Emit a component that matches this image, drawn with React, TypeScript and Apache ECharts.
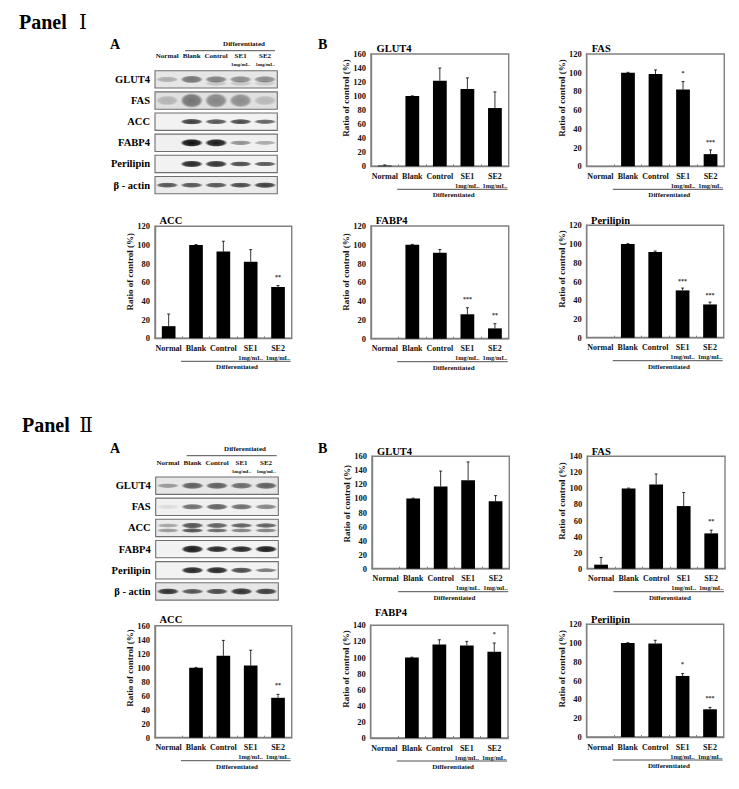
import React, { useEffect, useRef } from "react";
import * as echarts from "echarts";

const SERIF = '"Liberation Serif", "Times New Roman", serif';
const laneLabels = ["Normal", "Blank", "Control", "SE1", "SE2"];
const proteins = ["GLUT4", "FAS", "ACC", "FABP4", "Perilipin", "β - actin"];

// Panel I bar values, upper error limits, significance marks
const glut4I = [1, 100, 122, 110, 83];
const glut4ITop = [2, 100.4, 140, 126, 106];
const fasI = [0, 100, 98.5, 82, 13];
const fasITop = [0, 100.4, 103, 90.5, 17.5];
const accI = [13, 100, 93, 82, 55];
const accITop = [26, 100.4, 104, 95, 56.5];
const fabp4I = [0, 100, 91.5, 26, 11];
const fabp4ITop = [0, 100.4, 95, 33, 16];
const perilipinI = [0, 100, 91.5, 50.5, 35.5];
const perilipinITop = [0, 100.4, 92.5, 53, 38];

// Panel II
const glut4II = [0, 100, 117, 126, 96];
const glut4IITop = [0, 100.4, 139, 152, 104];
const fasII = [5, 100, 105, 78, 44];
const fasIITop = [14, 100.4, 118, 95, 48];
const accII = [0, 100, 117, 103, 57];
const accIITop = [0, 100.4, 139, 125, 62];
const fabp4II = [0, 100, 116, 115, 107];
const fabp4IITop = [0, 100.4, 122, 120, 118];
const perilipinII = [0, 100, 99.5, 65, 29.5];
const perilipinIITop = [0, 100.4, 103, 67.5, 31.5];

// Blot band darkness (0-1), per lane
const blotDarkI = [
  [0.25, 0.5, 0.45, 0.4, 0.4],
  [0.2, 0.5, 0.42, 0.38, 0.18],
  [0, 0.75, 0.65, 0.7, 0.6],
  [0, 0.95, 0.9, 0.4, 0.3],
  [0, 0.85, 0.8, 0.7, 0.65],
  [0.65, 0.65, 0.65, 0.7, 0.75],
];
const blotThickI = [
  [4, 6, 5, 5, 5],
  [8, 13, 13, 12, 8],
  [0, 4, 3.5, 3.5, 3],
  [0, 6, 6, 3, 2.5],
  [0, 5, 5, 3.5, 3],
  [3.5, 3.5, 3.5, 3.5, 4],
];
const blotBackI = [0.9, 0.88, 0.95, 0.94, 0.95, 0.92];
const blotDarkII = [
  [0.35, 0.6, 0.6, 0.55, 0.6],
  [0.08, 0.55, 0.6, 0.55, 0.45],
  [0.3, 0.65, 0.6, 0.6, 0.6],
  [0, 0.9, 0.85, 0.85, 0.9],
  [0, 0.85, 0.85, 0.7, 0.5],
  [0.8, 0.65, 0.7, 0.8, 0.75],
];
const blotThickII = [
  [3, 5, 5, 4.5, 5],
  [3, 4, 4.5, 4, 3.5],
  [2.5, 4, 3.5, 3, 3],
  [0, 6, 4.5, 4.5, 5],
  [0, 5, 5, 4, 2.5],
  [4.5, 3.5, 4, 5, 4.5],
];
const blotBackII = [0.9, 0.94, 0.92, 0.95, 0.95, 0.9];
// Secondary (fainter, lower) bands: protein row, darkness per lane
const lowerBandI = [{ row: 0, dark: [0, 0, 0.14, 0.14, 0.12] }];
const lowerBandII = [{ row: 2, dark: [0.35, 0.65, 0.55, 0.45, 0.45] }];

const charts = [
  { title: "GLUT4", v: glut4I, top: glut4ITop, max: 160, sig: [], l: 371, r: 508.7, t: 54, b: 166.3, tx: 376.5, ty: 48, ny: 98 },
  { title: "FAS", v: fasI, top: fasITop, max: 120, sig: [[3, 100, "*"], [4, 26, "***"]], l: 586.7, r: 724.3, t: 54, b: 166.3, tx: 591.7, ty: 48, ny: 98 },
  { title: "ACC", v: accI, top: accITop, max: 120, sig: [[4, 66, "**"]], l: 155, r: 291.7, t: 226.3, b: 338.3, tx: 159.5, ty: 220, ny: 271.7 },
  { title: "FABP4", v: fabp4I, top: fabp4ITop, max: 120, sig: [[3, 42, "***"], [4, 25, "**"]], l: 371, r: 508.7, t: 226, b: 338.7, tx: 375.7, ty: 220, ny: 272 },
  { title: "Perilipin", v: perilipinI, top: perilipinITop, max: 120, sig: [[3, 61, "***"], [4, 46, "***"]], l: 586.7, r: 723.7, t: 225.3, b: 337.7, tx: 591, ty: 220, ny: 269 },
  { title: "GLUT4", v: glut4II, top: glut4IITop, max: 160, sig: [], l: 372, r: 509.3, t: 456.3, b: 568.7, tx: 377, ty: 451.7, ny: 503.8 },
  { title: "FAS", v: fasII, top: fasIITop, max: 140, sig: [[4, 60, "**"]], l: 587.3, r: 725, t: 456.3, b: 568.7, tx: 591.7, ty: 451.7, ny: 501 },
  { title: "ACC", v: accII, top: accIITop, max: 160, sig: [[4, 75, "**"]], l: 155, r: 291.7, t: 625.7, b: 737.7, tx: 159.5, ty: 619.7, ny: 668 },
  { title: "FABP4", v: fabp4II, top: fabp4IITop, max: 140, sig: [[4, 129, "*"]], l: 370.7, r: 508, t: 625.3, b: 738, tx: 375, ty: 612, ny: 669 },
  { title: "Perilipin", v: perilipinII, top: perilipinIITop, max: 120, sig: [[3, 78, "*"], [4, 41, "***"]], l: 586.7, r: 723.7, t: 624.3, b: 737, tx: 591, ty: 619, ny: 668.7 },
];

const blots = [
  { dark: blotDarkI, thick: blotThickI, back: blotBackI, lower: lowerBandI, lowOff: 4, l: 155, w: 122.3, t: 68.8, diffX: [185, 275], diffY: 50.7, diffTx: 244, diffTy: 43.7 },
  { dark: blotDarkII, thick: blotThickII, back: blotBackII, lower: lowerBandII, lowOff: 2.5, l: 155.7, w: 122.6, t: 475.1, diffX: [186.7, 276.7], diffY: 455.7, diffTx: 245, diffTy: 448.7 },
];
const BLOT_PITCH = 21.15;

const headings = [
  { text: "Panel", x: 19, y: 22, size: 20 },
  { text: "Panel", x: 22, y: 425, size: 20 },
  { text: "A", x: 110, y: 44, size: 14 },
  { text: "B", x: 318, y: 44, size: 14 },
  { text: "A", x: 110, y: 448, size: 14 },
  { text: "B", x: 318, y: 448, size: 14 },
];
const numerals = [
  { text: "Ⅰ", x: 83, y: 22 },
  { text: "Ⅱ", x: 86, y: 425 },
];

function buildOption() {
  const grid: any[] = [];
  const xAxis: any[] = [];
  const yAxis: any[] = [];
  const series: any[] = [];
  const title: any[] = [];
  const graphic: any[] = [];

  headings.forEach((h) =>
    graphic.push({
      type: "text",
      x: h.x,
      y: h.y,
      style: { text: h.text, font: `bold ${h.size}px ${SERIF}`, fill: "#000", textVerticalAlign: "middle" },
    })
  );
  numerals.forEach((h) =>
    graphic.push({
      type: "text",
      x: h.x,
      y: h.y,
      style: { text: h.text, font: `normal 20px "DejaVu Serif", ${SERIF}`, fill: "#000", textAlign: "center", textVerticalAlign: "middle" },
    })
  );

  const diffLabel = (x: number, y: number, lx: number[], ly: number) => {
    graphic.push({ type: "line", shape: { x1: lx[0], y1: ly, x2: lx[1], y2: ly }, style: { stroke: "#222", lineWidth: 0.8 } });
    graphic.push({
      type: "text",
      x,
      y,
      style: { text: "Differentiated", font: `bold 7px ${SERIF}`, fill: "#111", textAlign: "center", textVerticalAlign: "middle" },
    });
  };

  charts.forEach((c, i) => {
    grid.push({ left: c.l, top: c.t, width: c.r - c.l, height: c.b - c.t, show: true, borderColor: "#808080", borderWidth: 1.4, backgroundColor: "transparent" });
    xAxis.push({
      type: "category",
      gridIndex: i,
      data: laneLabels,
      axisLine: { lineStyle: { color: "#808080", width: 1.4 } },
      axisTick: { show: true, inside: true, length: 2, lineStyle: { color: "#808080" } },
      axisLabel: {
        interval: 0,
        margin: 5,
        verticalAlign: "top",
        formatter: (v: string) => (v.startsWith("SE") ? `{a|${v}}\n{b|1mg/mL.}` : `{a|${v}}`),
        rich: {
          a: { fontFamily: SERIF, fontWeight: "bold", fontSize: 8, color: "#111", lineHeight: 10 },
          b: { fontFamily: SERIF, fontWeight: "bold", fontSize: 6.4, color: "#111", lineHeight: 8 },
        },
      },
    });
    yAxis.push({
      type: "value",
      gridIndex: i,
      min: 0,
      max: c.max,
      interval: 20,
      axisLine: { show: true, lineStyle: { color: "#808080", width: 1.4 } },
      axisTick: { show: false },
      splitLine: { show: false },
      axisLabel: { margin: 5, fontFamily: SERIF, fontWeight: "bold", fontSize: 8.5, color: "#111" },
    });
    graphic.push({
      type: "text",
      x: c.l - 25,
      y: c.ny,
      rotation: Math.PI / 2,
      style: { text: "Ratio of control (%)", font: `bold 9px ${SERIF}`, fill: "#111", textAlign: "center", textVerticalAlign: "middle" },
    });
    title.push({
      text: c.title,
      left: c.tx,
      top: c.ty - 6,
      padding: 0,
      textStyle: { fontFamily: SERIF, fontWeight: "bold", fontSize: 10.5, color: "#000", lineHeight: 12 },
    });
    series.push({
      type: "bar",
      name: `${c.title} ${i}`,
      xAxisIndex: i,
      yAxisIndex: i,
      data: c.v.map((v) => (v > 0 ? v : null)),
      barWidth: "50%",
      itemStyle: { color: "#000" },
    });
    series.push({
      type: "custom",
      name: `${c.title} ${i} error`,
      xAxisIndex: i,
      yAxisIndex: i,
      encode: { x: 0, y: [1, 2] },
      data: c.v.map((v, k) => [k, v, c.top[k]]).filter((d) => d[2] > 0),
      z: 3,
      renderItem: (_: any, api: any) => {
        const base = api.coord([api.value(0), api.value(1)]);
        const top = api.coord([api.value(0), api.value(2)]);
        return {
          type: "group",
          children: [
            { type: "line", shape: { x1: base[0], y1: base[1], x2: base[0], y2: top[1] }, style: { stroke: "#000", lineWidth: 0.8 } },
            { type: "line", shape: { x1: base[0] - 1.5, y1: top[1], x2: base[0] + 1.5, y2: top[1] }, style: { stroke: "#000", lineWidth: 0.8 } },
          ],
        };
      },
    });
    if (c.sig.length) {
      series.push({
        type: "custom",
        name: `${c.title} ${i} significance`,
        xAxisIndex: i,
        yAxisIndex: i,
        encode: { x: 0, y: 1 },
        data: c.sig.map((s: any) => [s[0], s[1]]),
        z: 3,
        renderItem: (p: any, api: any) => {
          const pt = api.coord([api.value(0), api.value(1)]);
          return {
            type: "text",
            x: pt[0],
            y: pt[1],
            style: { text: (c.sig[p.dataIndex] as any)[2], font: `bold 6px ${SERIF}`, fill: "#333", textAlign: "center", textVerticalAlign: "middle" },
          };
        },
      });
    }
    const xSpan = c.r - c.l;
    diffLabel((c.l + xSpan * 0.2 + c.r) / 2, c.b + 29, [c.l + xSpan * 0.19, c.r - 1], c.b + 23);
  });

  blots.forEach((b, n) => {
    const gi = charts.length + n;
    grid.push({ left: b.l, top: b.t, width: b.w, height: BLOT_PITCH * 6 });
    xAxis.push({
      type: "category",
      gridIndex: gi,
      position: "top",
      data: laneLabels,
      axisLine: { show: false },
      axisTick: { show: false },
      axisLabel: {
        interval: 0,
        margin: 0,
        verticalAlign: "bottom",
        formatter: (v: string) => `{a|${v}}\n{b|${v.startsWith("SE") ? "1mg/mL." : " "}}`,
        rich: {
          a: { fontFamily: SERIF, fontWeight: "bold", fontSize: 7, color: "#111", lineHeight: 9 },
          b: { fontFamily: SERIF, fontWeight: "bold", fontSize: 5, color: "#111", lineHeight: 8 },
        },
      },
    });
    yAxis.push({
      type: "category",
      gridIndex: gi,
      inverse: true,
      data: proteins,
      axisLine: { show: false },
      axisTick: { show: false },
      axisLabel: { margin: 5, fontFamily: SERIF, fontWeight: "bold", fontSize: 10.5, color: "#000" },
    });
    series.push({
      type: "custom",
      name: `blot frames ${n}`,
      xAxisIndex: gi,
      yAxisIndex: gi,
      encode: { x: 0, y: 1 },
      data: b.back.map((g, r) => [0, r, g]),
      z: 1,
      renderItem: (p: any, api: any) => {
        const pt = api.coord([0, api.value(1)]);
        const g = Math.round(api.value(2) * 255);
        const h = api.size([0, 1])[1] * 0.82;
        return {
          type: "rect",
          shape: { x: p.coordSys.x, y: pt[1] - h / 2, width: p.coordSys.width, height: h },
          style: { fill: `rgb(${g},${g},${g})`, stroke: "#6f6f6f", lineWidth: 1.1 },
        };
      },
    });
    const bandData: number[][] = [];
    b.dark.forEach((row, r) =>
      row.forEach((d, lane) => {
        const off = b.lower.some((s) => s.row === r && b.lowOff < 3) ? -b.lowOff : 0;
        bandData.push([lane, r, d, b.thick[r][lane], off]);
      })
    );
    b.lower.forEach((s) =>
      s.dark.forEach((d, lane) => bandData.push([lane, s.row, d, Math.max(2.5, b.thick[s.row][lane] * 0.7), b.lowOff]))
    );
    series.push({
      type: "custom",
      name: `blot bands ${n}`,
      xAxisIndex: gi,
      yAxisIndex: gi,
      encode: { x: 0, y: 1 },
      data: bandData.filter((d) => d[2] > 0),
      z: 2,
      renderItem: (_: any, api: any) => {
        const pt = api.coord([api.value(0), api.value(1)]);
        const d = api.value(2);
        return {
          type: "ellipse",
          shape: { cx: pt[0], cy: pt[1] + api.value(4), rx: 11.5, ry: api.value(3) / 2 + 1 },
          style: {
            fill: {
              type: "radial",
              x: 0.5,
              y: 0.5,
              r: 0.5,
              colorStops: [
                { offset: 0, color: `rgba(0,0,0,${d})` },
                { offset: 0.7, color: `rgba(0,0,0,${d * 0.85})` },
                { offset: 1, color: "rgba(0,0,0,0)" },
              ],
            },
          },
        };
      },
    });
    diffLabel(b.diffTx, b.diffTy, b.diffX, b.diffY);
  });

  return { animation: false, backgroundColor: "#fff", title, grid, xAxis, yAxis, series, graphic };
}

export default function App() {
  const ref = useRef<HTMLDivElement>(null);
  useEffect(() => {
    const chart = echarts.init(ref.current!, undefined, { renderer: "svg" });
    chart.setOption(buildOption() as any);
    return () => chart.dispose();
  }, []);
  return <div ref={ref} style={{ position: "absolute", left: 0, top: 0, width: 739, height: 789 }} />;
}
